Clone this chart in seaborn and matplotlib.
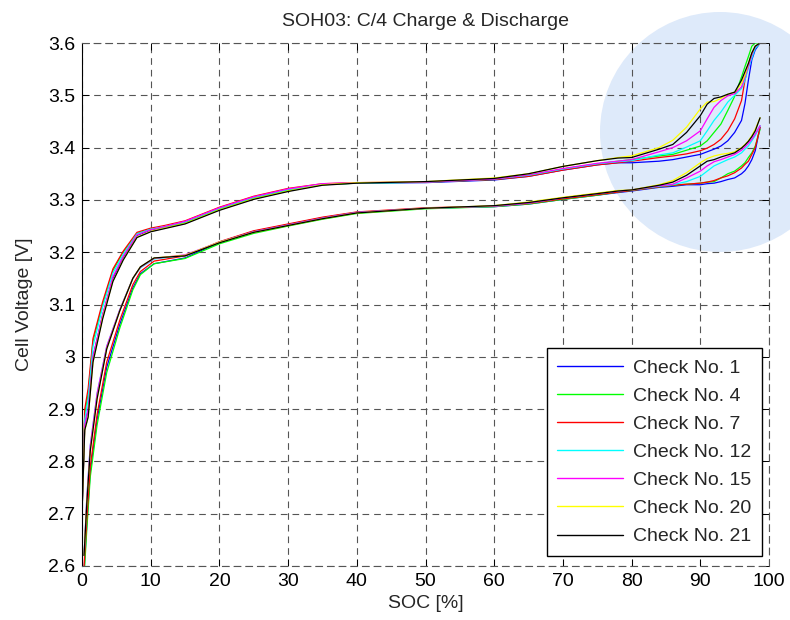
import pandas as pd
import seaborn as sns
import matplotlib
import matplotlib.pyplot as plt
from matplotlib.patches import Ellipse

matplotlib.use('Agg')

# Legende / Farben (MATLAB-Standard)
checks = ['Check No. 1', 'Check No. 4', 'Check No. 7', 'Check No. 12',
          'Check No. 15', 'Check No. 20', 'Check No. 21']
colors = ['#0000ff', '#00ff00', '#ff0000', '#00ffff', '#ff00ff', '#ffff00', '#000000']

# SOC-Stützstellen (in %)
charge_soc = [0, 0.4, 0.9, 1.6, 3, 4.5, 6, 8, 10, 12, 15, 20, 25, 30, 35, 40, 50, 60, 65,
              70, 75, 78]
discharge_soc = [0.3, 0.7, 1.2, 2.2, 3.6, 5.5, 7.4, 8.5, 10.5, 15, 20, 25, 30, 35, 40, 50,
                 60, 65, 70, 75, 78]
tail_soc = [80, 84, 86, 88, 90, 91, 92, 93, 94, 95, 96, 96.5, 97, 97.5, 98, 98.7]

# Laden: Spannung bis 78 % SOC
charge_body = {
    'Check No. 1': [2.700, 2.870, 2.900, 3.000, 3.080, 3.150, 3.190, 3.232, 3.242, 3.248, 3.257,
                    3.284, 3.305, 3.320, 3.330, 3.332, 3.333, 3.338, 3.345, 3.357, 3.367, 3.371],
    'Check No. 4': [2.710, 2.890, 2.930, 3.030, 3.100, 3.165, 3.200, 3.236, 3.244, 3.248, 3.256,
                    3.282, 3.303, 3.318, 3.329, 3.332, 3.334, 3.339, 3.346, 3.359, 3.369, 3.374],
    'Check No. 7': [2.710, 2.900, 2.940, 3.035, 3.105, 3.168, 3.202, 3.238, 3.246, 3.251, 3.260,
                    3.286, 3.307, 3.322, 3.331, 3.333, 3.334, 3.339, 3.345, 3.357, 3.367, 3.371],
    'Check No. 12': [2.700, 2.880, 2.920, 3.020, 3.095, 3.160, 3.196, 3.235, 3.244, 3.249, 3.258,
                     3.284, 3.305, 3.320, 3.330, 3.332, 3.334, 3.340, 3.347, 3.359, 3.369, 3.373],
    'Check No. 15': [2.700, 2.870, 2.900, 3.000, 3.080, 3.153, 3.192, 3.233, 3.243, 3.249, 3.259,
                     3.285, 3.306, 3.321, 3.331, 3.333, 3.334, 3.340, 3.348, 3.360, 3.370, 3.374],
    'Check No. 20': [2.700, 2.860, 2.885, 2.990, 3.075, 3.145, 3.186, 3.229, 3.240, 3.246, 3.255,
                     3.281, 3.302, 3.317, 3.329, 3.333, 3.335, 3.342, 3.350, 3.364, 3.375, 3.381],
    'Check No. 21': [2.700, 2.860, 2.885, 2.990, 3.072, 3.144, 3.185, 3.228, 3.239, 3.245, 3.254,
                     3.280, 3.301, 3.316, 3.328, 3.332, 3.335, 3.341, 3.350, 3.364, 3.375, 3.380],
}

# Laden: Ende ab 80 % SOC
charge_tails = {
    'Check No. 1': [3.371, 3.374, 3.377, 3.382, 3.387, 3.392, 3.397, 3.403, 3.413, 3.429,
                    3.452, 3.484, 3.529, 3.568, 3.587, 3.6],
    'Check No. 4': [3.377, 3.384, 3.387, 3.395, 3.403, 3.413, 3.429, 3.445, 3.471, 3.498,
                    3.535, 3.555, 3.574, 3.594, 3.6, 3.6],
    'Check No. 7': [3.374, 3.381, 3.384, 3.388, 3.394, 3.399, 3.406, 3.416, 3.432, 3.455,
                    3.490, 3.529, 3.558, 3.579, 3.592, 3.6],
    'Check No. 12': [3.375, 3.386, 3.390, 3.401, 3.413, 3.432, 3.452, 3.468, 3.487, 3.500,
                     3.513, 3.529, 3.552, 3.571, 3.590, 3.6],
    'Check No. 15': [3.377, 3.392, 3.400, 3.413, 3.432, 3.455, 3.477, 3.490, 3.499, 3.503,
                     3.516, 3.535, 3.555, 3.577, 3.594, 3.6],
    'Check No. 20': [3.384, 3.400, 3.414, 3.439, 3.474, 3.487, 3.488, 3.494, 3.502, 3.506,
                     3.523, 3.539, 3.561, 3.581, 3.594, 3.6],
    'Check No. 21': [3.381, 3.397, 3.406, 3.429, 3.461, 3.483, 3.494, 3.497, 3.502, 3.506,
                     3.529, 3.545, 3.561, 3.581, 3.594, 3.6],
}

# Entladen: Spannung bis 78 % SOC
discharge_body = {
    'Check No. 1': [2.590, 2.680, 2.780, 2.880, 2.980, 3.062, 3.132, 3.159, 3.178, 3.189, 3.219,
                    3.240, 3.253, 3.266, 3.276, 3.284, 3.287, 3.292, 3.301, 3.309, 3.314],
    'Check No. 4': [2.580, 2.670, 2.770, 2.870, 2.970, 3.055, 3.128, 3.157, 3.178, 3.188, 3.216,
                    3.236, 3.250, 3.263, 3.274, 3.283, 3.287, 3.292, 3.301, 3.309, 3.315],
    'Check No. 7': [2.600, 2.690, 2.790, 2.890, 2.990, 3.070, 3.138, 3.163, 3.183, 3.193, 3.220,
                    3.241, 3.254, 3.267, 3.277, 3.285, 3.288, 3.293, 3.302, 3.310, 3.315],
    'Check No. 12': [2.620, 2.730, 2.830, 2.930, 3.020, 3.090, 3.150, 3.170, 3.187, 3.194, 3.219,
                     3.239, 3.252, 3.265, 3.276, 3.284, 3.288, 3.294, 3.304, 3.312, 3.317],
    'Check No. 15': [2.620, 2.730, 2.830, 2.930, 3.020, 3.090, 3.150, 3.171, 3.188, 3.195, 3.219,
                     3.239, 3.252, 3.265, 3.276, 3.284, 3.288, 3.294, 3.304, 3.312, 3.317],
    'Check No. 20': [2.620, 2.720, 2.820, 2.920, 3.015, 3.088, 3.150, 3.172, 3.189, 3.194, 3.219,
                     3.238, 3.251, 3.264, 3.275, 3.284, 3.289, 3.296, 3.305, 3.313, 3.318],
    'Check No. 21': [2.620, 2.720, 2.820, 2.920, 3.015, 3.088, 3.150, 3.172, 3.189, 3.193, 3.218,
                     3.238, 3.251, 3.264, 3.275, 3.284, 3.289, 3.295, 3.304, 3.312, 3.317],
}

# Entladen: Ende ab 80 % SOC
discharge_tails = {
    'Check No. 1': [3.317, 3.324, 3.326, 3.329, 3.329, 3.331, 3.332, 3.335, 3.339, 3.342,
                    3.350, 3.356, 3.365, 3.377, 3.394, 3.439],
    'Check No. 4': [3.318, 3.325, 3.328, 3.330, 3.332, 3.334, 3.335, 3.342, 3.350, 3.355,
                    3.365, 3.371, 3.381, 3.390, 3.403, 3.435],
    'Check No. 7': [3.318, 3.325, 3.328, 3.330, 3.332, 3.334, 3.337, 3.342, 3.346, 3.352,
                    3.361, 3.368, 3.374, 3.387, 3.400, 3.439],
    'Check No. 12': [3.319, 3.326, 3.329, 3.335, 3.345, 3.355, 3.365, 3.371, 3.377, 3.382,
                     3.390, 3.397, 3.403, 3.413, 3.423, 3.442],
    'Check No. 15': [3.319, 3.327, 3.330, 3.342, 3.355, 3.365, 3.373, 3.377, 3.382, 3.387,
                     3.395, 3.401, 3.408, 3.416, 3.426, 3.442],
    'Check No. 20': [3.319, 3.329, 3.337, 3.352, 3.371, 3.379, 3.384, 3.387, 3.389, 3.392,
                     3.400, 3.406, 3.413, 3.423, 3.435, 3.457],
    'Check No. 21': [3.319, 3.328, 3.334, 3.347, 3.365, 3.374, 3.377, 3.382, 3.386, 3.390,
                     3.399, 3.405, 3.412, 3.421, 3.432, 3.457],
}

x_ticks = [0, 10, 20, 30, 40, 50, 60, 70, 80, 90, 100]
y_ticks = [2.6, 2.7, 2.8, 2.9, 3.0, 3.1, 3.2, 3.3, 3.4, 3.5, 3.6]
y_tick_labels = ['2.6', '2.7', '2.8', '2.9', '3', '3.1', '3.2', '3.3', '3.4', '3.5', '3.6']

# Long-Format DataFrame bauen
rows = []
for name in checks:
    for s, v in zip(charge_soc + tail_soc, charge_body[name] + charge_tails[name]):
        rows.append({'check': name, 'kurve': 'laden', 'soc': s, 'spannung': v})
    for s, v in zip(discharge_soc + tail_soc, discharge_body[name] + discharge_tails[name]):
        rows.append({'check': name, 'kurve': 'entladen', 'soc': s, 'spannung': v})
df = pd.DataFrame(rows)

sns.set_style("ticks")
plt.rcParams['font.family'] = ['Liberation Sans', 'DejaVu Sans']

fig = plt.figure(figsize=(7.9, 6.2), dpi=100)
ax = fig.add_axes([82 / 790, 54 / 620, 687 / 790, 523 / 620])
ax.set_facecolor('none')

# hellblauer Kreis hinter dem Diagramm
kreis = Ellipse((720 / 790, 488 / 620), 240 / 790, 240 / 620, transform=fig.transFigure,
                facecolor='#deeafa', edgecolor='none', zorder=-1)
fig.patches.append(kreis)

sns.lineplot(data=df, x='soc', y='spannung', hue='check', units='kurve', estimator=None,
             sort=False, hue_order=checks, palette=dict(zip(checks, colors)),
             linewidth=0.9, ax=ax)

ax.set_xlim(0, 100)
ax.set_ylim(2.6, 3.6)
ax.set_xticks(x_ticks)
ax.set_yticks(y_ticks)
ax.set_yticklabels(y_tick_labels)
ax.grid(True, linestyle=(0, (6, 4.5)), linewidth=0.8, color='#555555')
ax.tick_params(direction='in', length=5, width=0.7, top=True, right=True,
               labelsize=14, colors='black', pad=5)
for side in ['top', 'bottom', 'right']:
    ax.spines[side].set_linestyle((0, (6, 4.5)))
    ax.spines[side].set_color('#555555')
    ax.spines[side].set_linewidth(0.8)
ax.spines['left'].set_color('black')
ax.spines['left'].set_linewidth(0.8)

ax.set_title("SOH03: C/4 Charge & Discharge", fontsize=14, pad=12)
ax.set_xlabel("SOC [%]", fontsize=14, labelpad=4)
ax.set_ylabel("Cell Voltage [V]", fontsize=14, labelpad=11)

handles, labels = ax.get_legend_handles_labels()
leg = ax.legend(handles, labels, loc='lower right', bbox_to_anchor=(0.99, 0.019),
                borderaxespad=0, fontsize=14, frameon=True, fancybox=False, framealpha=1,
                edgecolor='black', handlelength=3.4, handletextpad=0.5,
                labelspacing=0.54, borderpad=0.55)
leg.get_frame().set_linewidth(1.0)
for line in leg.get_lines():
    line.set_linewidth(1.0)

plt.savefig("out.png", dpi=100)
